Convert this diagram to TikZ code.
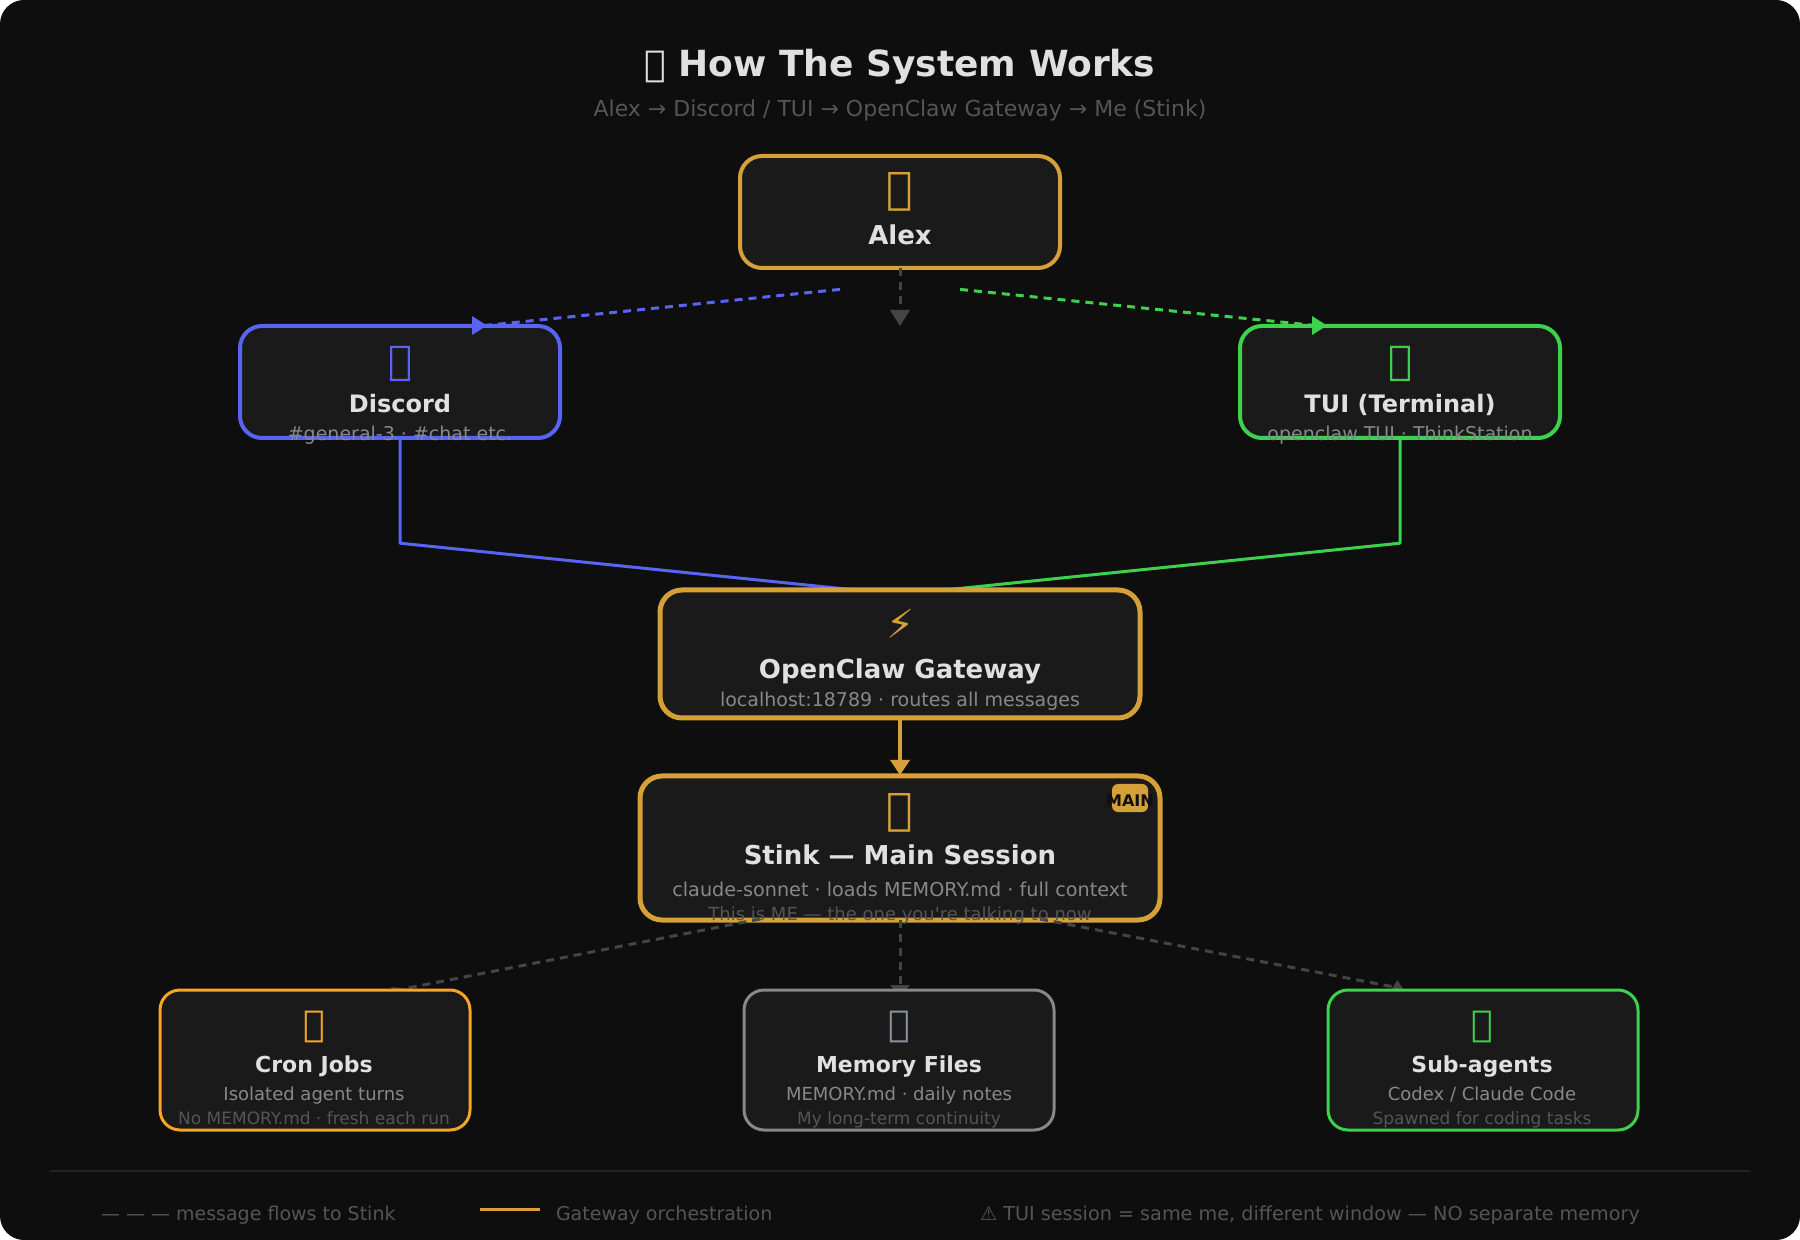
\documentclass[tikz,border=0pt]{standalone}
\usepackage{fontspec}
\setmainfont{DejaVu Sans}
\newfontfamily\plainfam{DejaVu Sans}
\usetikzlibrary{arrows.meta}
\definecolor{bgc}{HTML}{0E0E0E}
\definecolor{boxc}{HTML}{1A1A1A}
\definecolor{gold}{HTML}{D4A037}
\definecolor{blu}{HTML}{5865F2}
\definecolor{grn}{HTML}{3DD14D}
\definecolor{org}{HTML}{F5A623}
\definecolor{gry}{HTML}{888888}
\definecolor{memi}{HTML}{8A92A0}
\definecolor{lite}{HTML}{E0E0E0}
\definecolor{dim}{HTML}{555555}
\definecolor{dk}{HTML}{444444}
\definecolor{rulec}{HTML}{222222}
\newcommand{\tofu}{\XeTeXglyph0 }
\tikzset{
  card/.style={draw=#1,fill=boxc,rectangle,rounded corners=10pt,inner sep=0pt,outer sep=0pt},
  txt/.style={anchor=base,inner sep=0pt,outer sep=0pt},
  ico/.style={txt,text=#1},
  lab/.style={txt,text=lite,font=\bfseries},
  sub/.style={txt,text=gry},
  third/.style={txt,text=dim},
  leg/.style={anchor=base west,inner sep=0pt,outer sep=0pt,text=dim},
  dash flow/.style={line width=1.5pt,dash pattern=on 4pt off 3pt},
  solid flow/.style={line width=1.5pt,line join=round},
}
\newcommand{\fs}[1]{\fontsize{#1}{#1}\selectfont}
\begin{document}
\begin{tikzpicture}[x=1pt,y=-1pt]
\useasboundingbox (0,0) rectangle (900,620);
\fill[white] (0,0) rectangle (900,620);
\fill[bgc,rounded corners=12pt] (0,0) rectangle (900,620);

\node[txt,text=lite,font=\bfseries\fs{18}] (title) at (450,38.5) {\tofu\ How The System Works};
\node[txt,text=dim,font=\fs{11}] (subtitle) at (450,58.5) {Alex → Discord / TUI → OpenClaw Gateway → Me (Stink)};

% anchors for connector free ends
\coordinate (bs) at (420,144.7);
\coordinate (be) at (240,163);
\coordinate (gs) at (480,144.7);
\coordinate (ge) at (660,163);
\coordinate (bk) at (200,271.6);
\coordinate (gk) at (700,271.6);
\coordinate (gwin) at (450,297.3);
\coordinate (cs) at (380,459.5);
\coordinate (ce) at (204,494);
\coordinate (ss) at (520,459.5);
\coordinate (se) at (697,493.5);

% solid channel lines, under the gateway card
\draw[solid flow,blu] (200,219) -- (bk) -- (gwin);
\draw[solid flow,grn] (700,219) -- (gk) -- (gwin);

% cards
\node[card=gold,line width=2pt,minimum width=160pt,minimum height=56pt,rounded corners=11pt] (alex) at (450,106) {};
\node[card=blu,line width=2pt,minimum width=160pt,minimum height=56pt,rounded corners=11pt] (discord) at (200,191) {};
\node[card=grn,line width=2pt,minimum width=160pt,minimum height=56pt,rounded corners=11pt] (tui) at (700,191) {};
\node[card=gold,line width=2.5pt,minimum width=240pt,minimum height=64pt,rounded corners=11pt] (gateway) at (450,327) {};
\node[card=gold,line width=2.5pt,minimum width=260pt,minimum height=72pt,rounded corners=11pt] (stink) at (450,424) {};

% hidden-arrow slivers under the lower cards
\fill[dk] (195,493.5) -- (206,494.5) -- (206,497) -- (200,497) -- cycle;
\fill[dk] (698.7,490) -- (694.5,497) -- (703,497) -- cycle;
\fill[dk] (445,492.5) -- (455,492.5) -- (450,498) -- cycle;

% dashed flows out of Stink
\draw[dash flow,dk] (cs) -- (ce);
\draw[dash flow,dk] (stink.south) -- (450,493);
\draw[dash flow,dk] (ss) -- (se);

\node[card=org,line width=1.5pt,minimum width=155pt,minimum height=70pt] (cron) at (157.5,530) {};
\node[card=gry,line width=1.5pt,minimum width=155pt,minimum height=70pt] (memory) at (449.5,530) {};
\node[card=grn,line width=1.5pt,minimum width=155pt,minimum height=70pt] (subag) at (741.5,530) {};

% connectors from Alex
\draw[dash flow,dk] (alex.south) -- (450,155);
\fill[dk] (445,155) -- (455,155) -- (450,163) -- cycle;
\draw[dash flow,blu] (bs) -- (be);
\fill[blu] (236,158) -- (243.5,162.8) -- (236,167.5) -- cycle;
\draw[dash flow,grn] (gs) -- (ge);
\fill[grn] (656,158) -- (663.5,162.8) -- (656,167.5) -- cycle;

% gateway to stink
\draw[line width=2pt,gold] (gateway.south) -- (450,381);
\fill[gold] (445,380) -- (455,380) -- (450,387.5) -- cycle;

% Alex
\node[ico=gold,font=\fs{22}] (ialex) at (450,102) {\tofu};
\node[lab,font=\bfseries\fs{13}] (lalex) at (450,122.3) {Alex};
% Discord
\node[ico=blu,font=\fs{20}] (idisc) at (200,187.5) {\tofu};
\node[lab,font=\bfseries\fs{12}] (ldisc) at (200,206.3) {Discord};
\node[sub,font=\fs{9.5}] (sdisc) at (200,220.3) {\#general-3 · \#chat etc.};
% TUI
\node[ico=grn,font=\fs{20}] (itui) at (700,187.5) {\tofu};
\node[lab,font=\bfseries\fs{12}] (ltui) at (700,206.3) {TUI (Terminal)};
\node[sub,font=\fs{9.5}] (stui) at (700,220.3) {openclaw TUI · ThinkStation};
% Gateway
\node[ico=gold,font=\fs{20}] (igate) at (450.5,319.5) {⚡};
\node[lab,font=\bfseries\fs{13}] (lgate) at (450,339.3) {OpenClaw Gateway};
\node[sub,font=\fs{9.5}] (sgate) at (450,353.3) {localhost:18789 · routes all messages};
% Stink
\node[ico=gold,font=\fs{22}] (istink) at (450,412) {\tofu};
\node[lab,font=\bfseries\fs{13}] (lstink) at (450,432) {Stink — Main Session};
\node[sub,font=\fs{9.6}] (sstink) at (450,448) {claude-sonnet · loads MEMORY.md · full context};
\node[third,font=\fs{9}] (tstink) at (450,460) {This is ME — the one you{\plainfam '}re talking to now};
\node[fill=gold,rounded corners=3pt,minimum width=18pt,minimum height=14pt,inner sep=0pt,outer sep=0pt] (badge) at (565,399) {};
\node[txt,text=bgc,font=\bfseries\fs{8}] (tbadge) at (565,403.3) {MAIN};
% Cron
\node[ico=org,font=\fs{18}] (icron) at (157,518) {\tofu};
\node[lab,font=\bfseries\fs{11}] (lcron) at (157,536) {Cron Jobs};
\node[sub,font=\fs{9}] (scron) at (157,550) {Isolated agent turns};
\node[third,font=\fs{8.5}] (tcron) at (157,562) {No MEMORY.md · fresh each run};
% Memory
\node[ico=memi,font=\fs{18}] (imem) at (449.5,518) {\tofu};
\node[lab,font=\bfseries\fs{11}] (lmem) at (449.5,536) {Memory Files};
\node[sub,font=\fs{9}] (smem) at (449.5,550) {MEMORY.md · daily notes};
\node[third,font=\fs{8.5}] (tmem) at (449.5,562) {My long-term continuity};
% Sub-agents
\node[ico=grn,font=\fs{18}] (isub) at (741,518) {\tofu};
\node[lab,font=\bfseries\fs{11}] (lsub) at (741,536) {Sub-agents};
\node[sub,font=\fs{9}] (ssub) at (741,550) {Codex / Claude Code};
\node[third,font=\fs{8.5}] (tsub) at (741,562) {Spawned for coding tasks};

% legend
\coordinate (ruleL) at (25,585.3);
\coordinate (ruleR) at (875,585.3);
\draw[line width=1pt,rulec] (ruleL) -- (ruleR);
\node[leg,font=\fs{9.5}] (l1) at (50.5,610) {— — — message flows to Stink};
\coordinate (k1) at (240,604.5);
\coordinate (k2) at (270,604.5);
\draw[line width=1.5pt,gold] (k1) -- (k2);
\node[leg,font=\fs{9.5}] (l2) at (278,610) {Gateway orchestration};
\node[leg,font=\fs{9.6}] (l3) at (490,610) {⚠ TUI session = same me, different window — NO separate memory};
\end{tikzpicture}
\end{document}
